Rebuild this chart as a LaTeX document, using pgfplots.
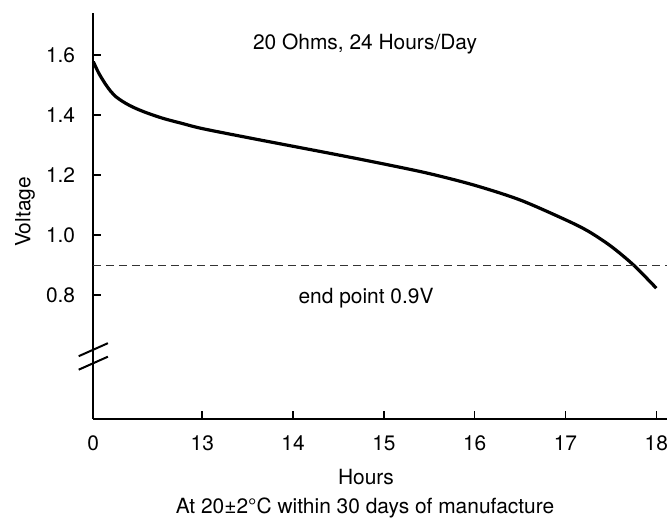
\documentclass[border=0pt]{standalone}
\usepackage{pgfplots}
\pgfplotsset{compat=1.18}
\usepackage{fontspec}
\setmainfont{TeX Gyre Heros}
\begin{document}
\begin{tikzpicture}[x=1bp,y=1bp]
\useasboundingbox (0,0) rectangle (667,518);
\begin{axis}[
  at={(93.3bp,99bp)}, anchor=south west,
  scale only axis, width=573.7bp, height=405.7bp,
  xmin=11.8, xmax=18.118, ymin=0.387, ymax=1.7393,
  axis x line*=bottom, axis y line*=left,
  axis line style={line width=2bp, black},
  tick align=inside, major tick length=8bp,
  tick style={line width=1.6bp, black},
  xtick={11.8,13,14,15,16,17,18},
  xticklabels={0,13,14,15,16,17,18},
  ytick={0.8,1.0,1.2,1.4,1.6},
  yticklabels={0.8,1.0,1.2,1.4,1.6},
  xticklabel style={anchor=base, yshift=-31.5bp, inner sep=0pt, font=\fontsize{21}{25}\selectfont},
  yticklabel style={anchor=east, xshift=-18bp, inner sep=0pt, font=\fontsize{21}{25}\selectfont},
  clip=false,
]
\addplot[black, line width=3.2bp, smooth, tension=0.5] coordinates {
(11.800,1.578) (11.860,1.540) (11.930,1.505) (11.990,1.480) (12.050,1.461)
(12.120,1.446) (12.200,1.432) (12.300,1.418) (12.420,1.404) (12.580,1.388)
(12.780,1.372) (13.000,1.355) (13.50,1.325) (14.00,1.296) (14.50,1.267)
(15.00,1.237) (15.50,1.205) (16.00,1.166) (16.50,1.117) (17.00,1.051)
(17.25,1.013) (17.50,0.963) (17.75,0.900) (18.00,0.823)
};
\addplot[black!80, line width=1.1bp, dash pattern=on 8bp off 5bp] coordinates {(11.8,0.9) (18.118,0.9)};
\draw[line width=2bp, black] ([xshift=-14.6bp,yshift=-6.5bp]axis cs:11.8,0.618) -- ([xshift=14.6bp,yshift=6.5bp]axis cs:11.8,0.618);
\draw[line width=2bp, black] ([xshift=-14.6bp,yshift=-6.5bp]axis cs:11.8,0.573) -- ([xshift=14.6bp,yshift=6.5bp]axis cs:11.8,0.573);
\end{axis}
\node[anchor=base, inner sep=0pt, font=\fontsize{21}{25}\selectfont] at (365,468) {20 Ohms, 24 Hours/Day};
\node[anchor=base, inner sep=0pt, font=\fontsize{21}{25}\selectfont] at (366,214) {end point 0.9V};
\node[anchor=base, inner sep=0pt, font=\fontsize{21}{25}\selectfont] at (366,33.5) {Hours};
\node[anchor=base, inner sep=0pt, font=\fontsize{21}{25}\selectfont] at (365,4) {At 20±2°C within 30 days of manufacture};
\node[rotate=90, inner sep=0pt, font=\fontsize{21}{25}\selectfont] at (25,306) {Voltage};
\end{tikzpicture}
\end{document}
